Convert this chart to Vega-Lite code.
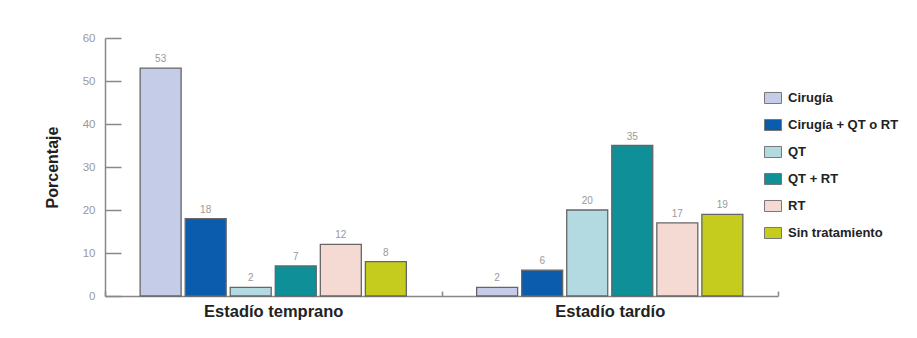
{
  "$schema": "https://vega.github.io/schema/vega-lite/v6.json",
  "width": 673,
  "height": 258,
  "autosize": "none",
  "padding": {"left": 105, "top": 38, "right": 139, "bottom": 42},
  "background": "white",
  "config": {"view": {"stroke": null}, "font": "Liberation Sans"},
  "data": {
    "values": [
      {"estadio": "Estadío temprano", "tratamiento": "Cirugía", "pct": 53},
      {"estadio": "Estadío temprano", "tratamiento": "Cirugía + QT o RT", "pct": 18},
      {"estadio": "Estadío temprano", "tratamiento": "QT", "pct": 2},
      {"estadio": "Estadío temprano", "tratamiento": "QT + RT", "pct": 7},
      {"estadio": "Estadío temprano", "tratamiento": "RT", "pct": 12},
      {"estadio": "Estadío temprano", "tratamiento": "Sin tratamiento", "pct": 8},
      {"estadio": "Estadío tardío", "tratamiento": "Cirugía", "pct": 2},
      {"estadio": "Estadío tardío", "tratamiento": "Cirugía + QT o RT", "pct": 6},
      {"estadio": "Estadío tardío", "tratamiento": "QT", "pct": 20},
      {"estadio": "Estadío tardío", "tratamiento": "QT + RT", "pct": 35},
      {"estadio": "Estadío tardío", "tratamiento": "RT", "pct": 17},
      {"estadio": "Estadío tardío", "tratamiento": "Sin tratamiento", "pct": 19}
    ]
  },
  "encoding": {
    "x": {
      "field": "estadio", "type": "nominal", "sort": null,
      "scale": {"paddingInner": 0, "paddingOuter": 0},
      "axis": {
        "title": null, "labelAngle": 0, "labelFontSize": 16.5, "labelFontWeight": "bold",
        "labelColor": "#222", "labelPadding": 12, "domainColor": "#888", "domainWidth": 1.5,
        "tickColor": "#888", "tickWidth": 1.5, "tickSize": -5, "tickBand": "extent"
      }
    },
    "xOffset": {
      "field": "tratamiento", "type": "nominal", "sort": null,
      "scale": {"paddingInner": 0.09, "paddingOuter": 0.78}
    },
    "y": {
      "field": "pct", "type": "quantitative",
      "scale": {"domain": [0, 60], "nice": false},
      "axis": {
        "title": "Porcentaje", "titleFontSize": 16, "titleFontWeight": "bold", "titleColor": "#222",
        "titlePadding": 22, "values": [0, 10, 20, 30, 40, 50, 60], "grid": false,
        "labelFontSize": 11.5, "labelColor": "#999", "labelPadding": 26,
        "domainColor": "#888", "domainWidth": 1.5, "tickColor": "#888", "tickWidth": 1.5, "tickSize": -16
      }
    }
  },
  "layer": [
    {
      "mark": {"type": "bar", "stroke": "#666", "strokeWidth": 1.3},
      "encoding": {
        "color": {
          "field": "tratamiento", "type": "nominal",
          "scale": {
            "domain": ["Cirugía", "Cirugía + QT o RT", "QT", "QT + RT", "RT", "Sin tratamiento"],
            "range": ["#c5cce8", "#0b5cad", "#b3d9e1", "#0f9098", "#f5d9d3", "#c5cc1d"]
          },
          "legend": {
            "title": null, "orient": "none", "legendX": 659, "legendY": 51, "padding": 0,
            "symbolType": "M-1,-0.65H1V0.65H-1Z", "symbolSize": 289, "symbolStrokeColor": "#777",
            "symbolStrokeWidth": 1, "labelFontSize": 13, "labelFontWeight": "bold", "labelColor": "#222",
            "labelOffset": 6, "rowPadding": 10
          }
        }
      }
    },
    {
      "mark": {"type": "text", "baseline": "bottom", "dy": -4, "fontSize": 10, "color": "#999"},
      "encoding": {"text": {"field": "pct", "type": "quantitative"}}
    }
  ]
}
